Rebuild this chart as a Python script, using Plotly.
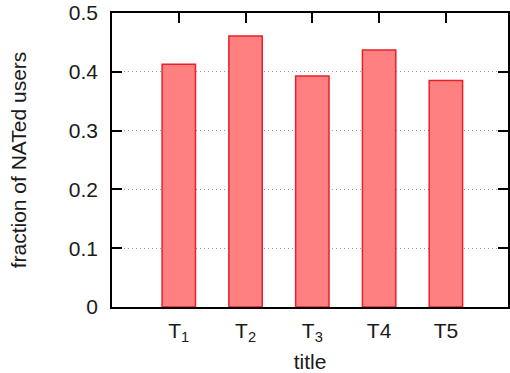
import plotly.graph_objects as go

categories = ["T<sub>1</sub>", "T<sub>2</sub>", "T<sub>3</sub>", "T4", "T5"]
values = [0.413, 0.461, 0.393, 0.437, 0.385]
y_tickvals = [0, 0.1, 0.2, 0.3, 0.4, 0.5]
y_ticktext = ["0", "0.1", "0.2", "0.3", "0.4", "0.5"]
x_title = "title"
y_title = "fraction of NATed users"

xpos = list(range(len(categories)))
XR = [-1, 4.93]

fig = go.Figure()
fig.add_trace(go.Bar(
    x=xpos, y=values, width=0.5,
    marker=dict(color="#FF8080", line=dict(color="#E8202A", width=1.5)),
    showlegend=False,
))
# invisible trace on top axis for top ticks
fig.add_trace(go.Scatter(x=xpos, y=values, xaxis="x2", mode="markers",
                         marker=dict(opacity=0), showlegend=False, hoverinfo="skip"))

FS = 21
font = dict(family="Liberation Sans, Arial, sans-serif", size=FS, color="#1a1a1a")

fig.update_layout(
    width=510, height=373,
    margin=dict(l=112, r=0, t=13, b=66),
    plot_bgcolor="white", paper_bgcolor="white",
    font=font,
    xaxis=dict(
        range=XR, tickvals=xpos, ticktext=categories,
        ticks="", showline=True, linecolor="black", linewidth=1.5, mirror=True,
        showgrid=False, zeroline=False,
        title=dict(text=x_title, font=dict(size=FS), standoff=12),
        tickfont=dict(size=FS),
        ticklabelstandoff=4,
    ),
    xaxis2=dict(
        range=XR, tickvals=xpos, overlaying="x", side="top",
        ticks="inside", ticklen=10, tickwidth=1.5, tickcolor="black",
        showticklabels=False, showgrid=False, zeroline=False, showline=False,
    ),
    yaxis=dict(
        range=[0, 0.5], tickvals=y_tickvals, ticktext=y_ticktext,
        ticks="inside", ticklen=10, tickwidth=1.5, tickcolor="black",
        showline=True, linecolor="black", linewidth=1.5, mirror="ticks",
        showgrid=True, gridcolor="#999999", gridwidth=1, griddash="1px,3px",
        zeroline=False,
        title=dict(text=y_title, font=dict(size=FS), standoff=36),
        tickfont=dict(size=FS),
        ticklabelstandoff=8,
    ),
)

fig.write_html("out.html", config={"displayModeBar": False},
               post_script="document.body.style.margin='0';")
